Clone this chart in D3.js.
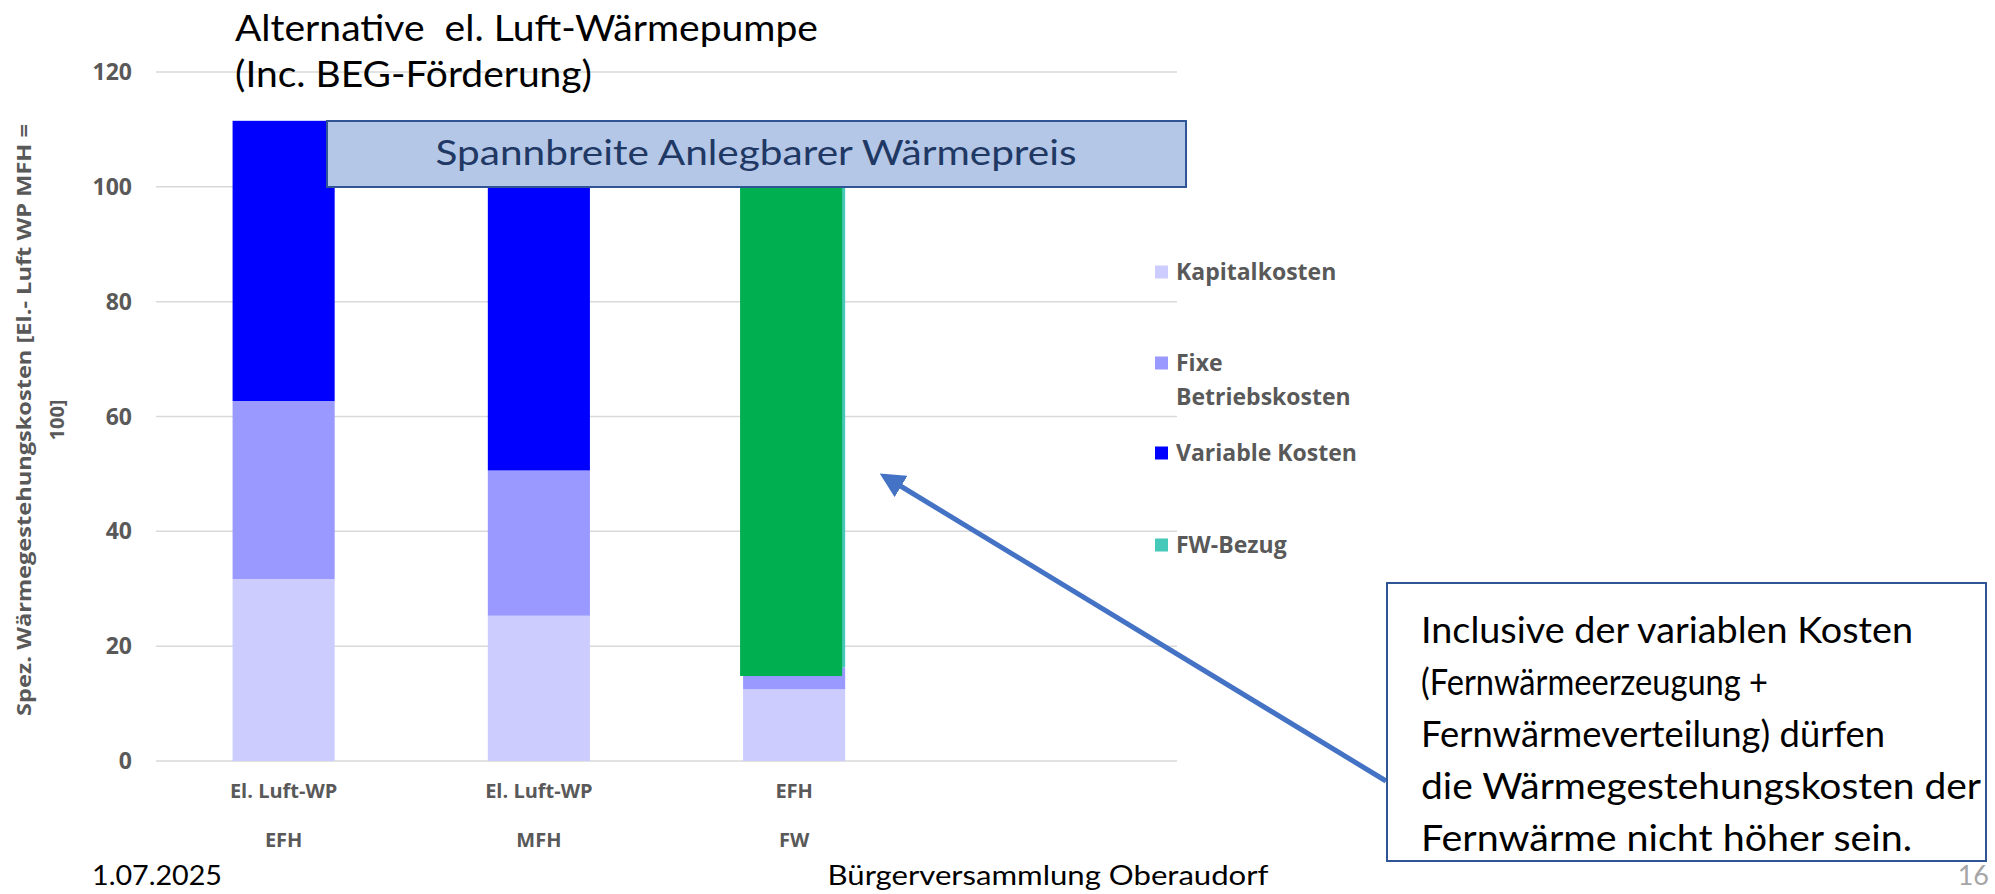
<!DOCTYPE html>
<html>
<head>
<meta charset="utf-8">
<script src="https://cdn.jsdelivr.net/npm/d3@7"></script>
<style>
  body { margin: 0; background: #fff; }
  svg { display: block; font-family: Lato, "Open Sans", sans-serif; }
  .lab { font-family: "Open Sans", sans-serif; font-weight: bold; fill: #595959; }
</style>
</head>
<body>
<svg id="chart" width="1995" height="894"></svg>
<script>
// categories: two label lines each, 4th slot empty
const categories = ["EFH-WP", "MFH-WP", "EFH-FW", "empty"];
const labelLine1 = ["El. Luft-WP", "El. Luft-WP", "EFH", ""];
const labelLine2 = ["EFH", "MFH", "FW", ""];

const seriesNames = ["Kapitalkosten", "Fixe Betriebskosten", "Variable Kosten", "FW-Bezug"];
const kapitalkosten = [31.7, 25.3, 12.5, 0];
const fixeBetriebskosten = [31.0, 25.3, 3.8, 0];
const variableKosten = [48.8, 49.4, 0, 0];
const fwBezug = [0, 0, 85, 0];

// green overlay shape on FW bar (from, to)
const fwOverlay = [14.8, 101];

const yTicks = [0, 20, 40, 60, 80, 100, 120];

const colors = ["#CCCCFF", "#9999FF", "#0000FF", "#47C9BA"];
const overlayColor = "#00B050";

const plotLeft = 156, plotRight = 1177, plotTop = 72, plotBottom = 761;
const tickSize = 23, legendSize = 23, catSize = 20;

const svg = d3.select("#chart");

const x = d3.scaleBand()
  .domain(categories)
  .range([plotLeft, plotRight])
  .paddingInner(0.6)
  .paddingOuter(0.3);

const y = d3.scaleLinear().domain([0, 120]).range([plotBottom, plotTop]);

// gridlines
svg.append("g")
  .selectAll("line")
  .data(yTicks)
  .join("line")
  .attr("x1", plotLeft)
  .attr("x2", plotRight)
  .attr("y1", (d) => y(d))
  .attr("y2", (d) => y(d))
  .attr("stroke", "#d9d9d9")
  .attr("stroke-width", 1.5);

// y tick labels
svg.append("g")
  .selectAll("text")
  .data(yTicks)
  .join("text")
  .attr("class", "lab")
  .attr("x", 132)
  .attr("y", (d) => y(d) + 8)
  .attr("text-anchor", "end")
  .attr("font-size", tickSize)
  .text((d) => d);

// y axis title
const yTitle = svg.append("g").attr("transform", "translate(0,420) rotate(-90)");
yTitle.append("text")
  .attr("class", "lab")
  .attr("x", 0).attr("y", 31)
  .attr("text-anchor", "middle")
  .attr("font-size", 20)
  .attr("textLength", 592).attr("lengthAdjust", "spacingAndGlyphs")
  .text("Spez. Wärmegestehungskosten [El.- Luft WP MFH =");
yTitle.append("text")
  .attr("class", "lab")
  .attr("x", 0).attr("y", 64)
  .attr("text-anchor", "middle")
  .attr("font-size", 20)
  .text("100]");

// stacked bars
const table = categories.map((c, i) => ({
  cat: c,
  [seriesNames[0]]: kapitalkosten[i],
  [seriesNames[1]]: fixeBetriebskosten[i],
  [seriesNames[2]]: variableKosten[i],
  [seriesNames[3]]: fwBezug[i],
}));
const stacked = d3.stack().keys(seriesNames)(table);

svg.append("g")
  .selectAll("g")
  .data(stacked)
  .join("g")
  .attr("fill", (d, i) => colors[i])
  .selectAll("rect")
  .data((d) => d.filter((p) => p[1] > p[0]))
  .join("rect")
  .attr("x", (d) => x(d.data.cat))
  .attr("width", x.bandwidth())
  .attr("y", (d) => y(d[1]))
  .attr("height", (d) => y(d[0]) - y(d[1]));

// green overlay on FW bar
svg.append("rect")
  .attr("x", x("EFH-FW") - 3)
  .attr("width", x.bandwidth())
  .attr("y", y(fwOverlay[1]))
  .attr("height", y(fwOverlay[0]) - y(fwOverlay[1]))
  .attr("fill", overlayColor);

// category labels
const catG = svg.append("g");
catG.selectAll("text.l1")
  .data(categories)
  .join("text")
  .attr("class", "lab l1")
  .attr("x", (d) => x(d) + x.bandwidth() / 2)
  .attr("y", 798)
  .attr("text-anchor", "middle")
  .attr("font-size", catSize)
  .text((d, i) => labelLine1[i]);
catG.selectAll("text.l2")
  .data(categories)
  .join("text")
  .attr("class", "lab l2")
  .attr("x", (d) => x(d) + x.bandwidth() / 2)
  .attr("y", 847)
  .attr("text-anchor", "middle")
  .attr("font-size", catSize)
  .text((d, i) => labelLine2[i]);

// legend
const legendY = [272, 363, 453, 545];
const legend = svg.append("g");
const li = legend.selectAll("g")
  .data(seriesNames)
  .join("g")
  .attr("transform", (d, i) => `translate(1155, ${legendY[i]})`);
li.append("rect")
  .attr("x", 0).attr("y", -6.5)
  .attr("width", 13).attr("height", 13)
  .attr("fill", (d, i) => colors[i]);
li.append("text")
  .attr("class", "lab")
  .attr("x", 21).attr("y", 8)
  .attr("font-size", legendSize)
  .each(function (d) {
    const t = d3.select(this);
    if (d === "Fixe Betriebskosten") {
      t.append("tspan").attr("x", 21).text("Fixe");
      t.append("tspan").attr("x", 21).attr("dy", 34).text("Betriebskosten");
    } else {
      t.text(d);
    }
  });

// range box
svg.append("rect")
  .attr("x", 327).attr("y", 121)
  .attr("width", 859).attr("height", 66)
  .attr("fill", "#B4C7E7")
  .attr("stroke", "#2F5597").attr("stroke-width", 2);
svg.append("text")
  .attr("x", 756).attr("y", 165)
  .attr("text-anchor", "middle")
  .attr("font-size", 34).attr("fill", "#1F3864")
  .attr("textLength", 641).attr("lengthAdjust", "spacingAndGlyphs")
  .text("Spannbreite Anlegbarer Wärmepreis");

// title
svg.append("text")
  .attr("x", 235).attr("y", 41)
  .attr("font-size", 36).attr("fill", "#000")
  .style("white-space", "pre")
  .attr("textLength", 583).attr("lengthAdjust", "spacingAndGlyphs")
  .text("Alternative  el. Luft-Wärmepumpe");
svg.append("text")
  .attr("x", 235).attr("y", 87)
  .attr("font-size", 36).attr("fill", "#000")
  .attr("textLength", 357).attr("lengthAdjust", "spacingAndGlyphs")
  .text("(Inc. BEG-Förderung)");

// arrow
const defs = svg.append("defs");
defs.append("marker")
  .attr("id", "head")
  .attr("viewBox", "0 0 10 10")
  .attr("refX", 8).attr("refY", 5)
  .attr("markerWidth", 5).attr("markerHeight", 5)
  .attr("orient", "auto")
  .append("path")
  .attr("d", "M0,0 L10,5 L0,10 Z")
  .attr("fill", "#4472C4");
svg.append("line")
  .attr("x1", 1386).attr("y1", 781)
  .attr("x2", 884).attr("y2", 476)
  .attr("stroke", "#4472C4").attr("stroke-width", 5)
  .attr("marker-end", "url(#head)");

// callout box
svg.append("rect")
  .attr("x", 1387).attr("y", 583)
  .attr("width", 599).attr("height", 278)
  .attr("fill", "#fff")
  .attr("stroke", "#2F5597").attr("stroke-width", 2);
const calloutLines = [
  "Inclusive der variablen Kosten",
  "(Fernwärmeerzeugung +",
  "Fernwärmeverteilung) dürfen",
  "die Wärmegestehungskosten der",
  "Fernwärme nicht höher sein.",
];
const calloutWidths = [492, 347, 464, 560, 491];
svg.append("g")
  .selectAll("text")
  .data(calloutLines)
  .join("text")
  .attr("x", 1421)
  .attr("y", (d, i) => 643 + i * 52)
  .attr("font-size", 36).attr("fill", "#000")
  .attr("textLength", (d, i) => calloutWidths[i])
  .attr("lengthAdjust", "spacingAndGlyphs")
  .text((d) => d);

// footer
svg.append("text")
  .attr("x", 92).attr("y", 885)
  .attr("font-size", 27).attr("fill", "#000")
  .attr("textLength", 130).attr("lengthAdjust", "spacingAndGlyphs")
  .text("1.07.2025");
svg.append("text")
  .attr("x", 1048).attr("y", 885)
  .attr("text-anchor", "middle")
  .attr("font-size", 27).attr("fill", "#000")
  .attr("textLength", 441).attr("lengthAdjust", "spacingAndGlyphs")
  .text("Bürgerversammlung Oberaudorf");
svg.append("text")
  .attr("x", 1989).attr("y", 885)
  .attr("text-anchor", "end")
  .attr("font-size", 27).attr("fill", "#a6a6a6")
  .text("16");
</script>
</body>
</html>
